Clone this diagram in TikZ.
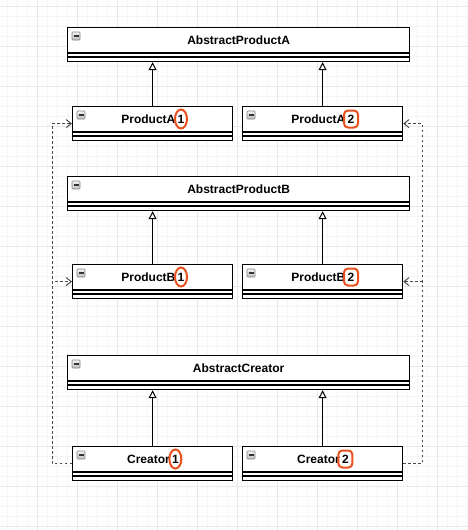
\documentclass[tikz,border=0pt]{standalone}
\usepackage{fontspec}
\setmainfont{Liberation Sans}
\usetikzlibrary{arrows.meta,shapes.geometric,calc}
\definecolor{gridminor}{HTML}{F5F5F5}
\definecolor{gridmajor}{HTML}{E8E8E8}
\definecolor{annot}{HTML}{E8501E}
\definecolor{deplc}{HTML}{4A4A4A}
\definecolor{iconlight}{HTML}{F4F4F4}
\definecolor{icondark}{HTML}{BDBDBD}
\tikzset{
  cls/.style={draw, line width=1.2pt, fill=white, minimum height=34pt, inner sep=0pt, anchor=north west},
  clsline/.style={line width=1.1pt},
  lbl/.style={font=\fontsize{12pt}{14pt}\selectfont\bfseries, inner sep=0pt},
  iconbox/.style={draw=black!50, line width=0.6pt, top color=iconlight, bottom color=icondark, rounded corners=0.8pt},
  iconminus/.style={line width=1.2pt, black!80},
  gen/.style={line width=1pt, -{Triangle[open, length=8pt, width=8pt, fill=white]}},
  dep/.style={line width=1pt, deplc, dash pattern=on 2.5pt off 2.5pt, -{Straight Barb[length=5pt, width=8pt]}},
  ringe/.style={ellipse, draw=annot, line width=2pt, minimum width=12pt, minimum height=19pt, inner sep=0pt, font=\fontsize{12pt}{14pt}\selectfont\bfseries},
  ringr/.style={rectangle, rounded corners=4pt, draw=annot, line width=2pt, minimum width=14pt, minimum height=17pt, inner sep=0pt, font=\fontsize{12pt}{14pt}\selectfont\bfseries},
}
\newcommand{\umlbox}[4]{%
  \node[cls, minimum width=#4pt] (#1) at (#2,#3) {};
  \draw[clsline] ([yshift=-26pt]#1.north west) -- ([yshift=-26pt]#1.north east);
  \draw[clsline] ([yshift=-30pt]#1.north west) -- ([yshift=-30pt]#1.north east);
  \draw[iconbox] ([xshift=5pt,yshift=-5pt]#1.north west) rectangle ++(8,8);
  \draw[iconminus] ([xshift=6.5pt,yshift=-9pt]#1.north west) -- ++(5,0);
}
\begin{document}
\begin{tikzpicture}[x=1pt, y=-1pt]
\useasboundingbox (0,0) rectangle (467,530);
\fill[white] (0,0) rectangle (467,530);
% grid
\foreach \x in {7,17,...,467} \draw[gridminor, line width=0.8pt] (\x,0) -- (\x,530);
\foreach \y in {6,16,...,530} \draw[gridminor, line width=0.8pt] (0,\y) -- (467,\y);
\foreach \x in {37,77,...,467} \draw[gridmajor, line width=0.8pt] (\x,0) -- (\x,530);
\foreach \y in {6,46,...,530} \draw[gridmajor, line width=0.8pt] (0,\y) -- (467,\y);

% classes
\umlbox{apa}{67}{27}{342}
\umlbox{pa1}{72}{106}{160}
\umlbox{pa2}{242}{106}{160}
\umlbox{apb}{67}{176}{342}
\umlbox{pb1}{72}{264}{160}
\umlbox{pb2}{242}{264}{160}
\umlbox{ac}{67}{355}{342}
\umlbox{c1}{72}{446}{160}
\umlbox{c2}{242}{446}{160}

% labels
\node[lbl] (apa-t) at ([yshift=-13pt]apa.north) {AbstractProductA};
\node[lbl] (apb-t) at ([yshift=-13pt]apb.north) {AbstractProductB};
\node[lbl] (ac-t) at ([yshift=-13pt]ac.north) {AbstractCreator};

\node[lbl, anchor=west] (pa1-t) at ([xshift=-31.4pt, yshift=-13pt]pa1.north) {ProductA};
\node[ringe] (pa1-d) at ([xshift=5.4pt]pa1-t.east) {1};
\node[lbl, anchor=west] (pa2-t) at ([xshift=-31.4pt, yshift=-13pt]pa2.north) {ProductA};
\node[ringr] (pa2-d) at ([xshift=5.4pt]pa2-t.east) {2};

\node[lbl, anchor=west] (pb1-t) at ([xshift=-31.4pt, yshift=-13pt]pb1.north) {ProductB};
\node[ringe] (pb1-d) at ([xshift=5.4pt]pb1-t.east) {1};
\node[lbl, anchor=west] (pb2-t) at ([xshift=-31.4pt, yshift=-13pt]pb2.north) {ProductB};
\node[ringr] (pb2-d) at ([xshift=5.4pt]pb2-t.east) {2};

\node[lbl, anchor=west] (c1-t) at ([xshift=-25.7pt, yshift=-13pt]c1.north) {Creator};
\node[ringe] (c1-d) at ([xshift=5.4pt]c1-t.east) {1};
\node[lbl, anchor=west] (c2-t) at ([xshift=-25.7pt, yshift=-13pt]c2.north) {Creator};
\node[ringr] (c2-d) at ([xshift=5.4pt]c2-t.east) {2};

% generalizations
\draw[gen] (pa1.north) -- (pa1.north |- apa.south);
\draw[gen] (pa2.north) -- (pa2.north |- apa.south);
\draw[gen] (pb1.north) -- (pb1.north |- apb.south);
\draw[gen] (pb2.north) -- (pb2.north |- apb.south);
\draw[gen] (c1.north) -- (c1.north |- ac.south);
\draw[gen] (c2.north) -- (c2.north |- ac.south);

% dependencies
\coordinate (L) at (52,0);
\coordinate (R) at (422,0);
\draw[dep] (c1.west) -- (c1.west -| L) -- (L |- pa1.west) -- (pa1.west);
\draw[dep] (c1.west) -- (c1.west -| L) -- (L |- pb1.west) -- (pb1.west);
\draw[dep] (c2.east) -- (c2.east -| R) -- (R |- pa2.east) -- (pa2.east);
\draw[dep] (c2.east) -- (c2.east -| R) -- (R |- pb2.east) -- (pb2.east);
\end{tikzpicture}
\end{document}
